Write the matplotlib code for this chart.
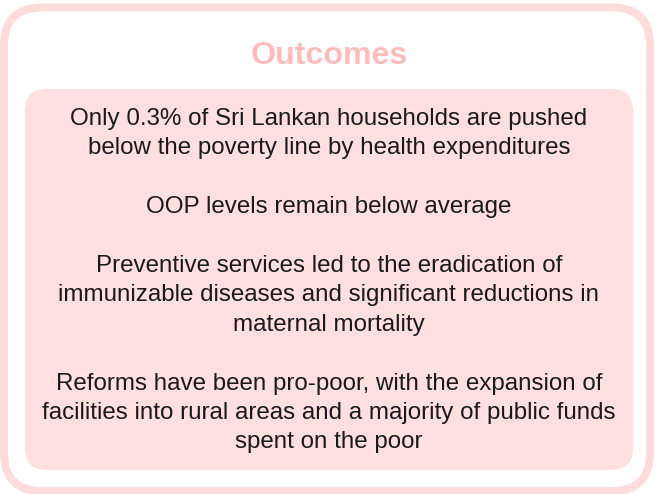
import matplotlib
matplotlib.use("Agg")
import matplotlib.pyplot as plt
from matplotlib.patches import FancyBboxPatch

title = "Outcomes"
paragraphs = [
    ["Only 0.3% of Sri Lankan households are pushed",
     "below the poverty line by health expenditures"],
    ["OOP levels remain below average"],
    ["Preventive services led to the eradication of",
     "immunizable diseases and significant reductions in",
     "maternal mortality"],
    ["Reforms have been pro-poor, with the expansion of",
     "facilities into rural areas and a majority of public funds",
     "spent on the poor"],
]

W, H = 658, 494
fig = plt.figure(figsize=(W / 100, H / 100), dpi=100)
ax = fig.add_axes([0, 0, 1, 1])
ax.set_xlim(0, W)
ax.set_ylim(H, 0)
ax.axis("off")

outer = FancyBboxPatch((4 + 38, 7.5 + 38), 646 - 76, 483.5 - 76,
                       boxstyle="round,pad=38", fc="white", ec="#FFDCDC", lw=5.8)
ax.add_patch(outer)
inner = FancyBboxPatch((25 + 22, 89 + 22), 608 - 44, 381 - 44,
                       boxstyle="round,pad=22", fc="#FFDFDF", ec="none")
ax.add_patch(inner)

ax.text(W / 2, 56, title, ha="center", va="center", fontsize=23.1,
        fontweight="bold", color="#FFBCBC", family="Liberation Sans")

y = 119
step = 29.4
for p in paragraphs:
    for line in p:
        ax.text(329, y, line, ha="center", va="center", fontsize=17.4,
                color="#1a1a1a", family="Liberation Sans")
        y += step
    y += step

fig.savefig("out.png", dpi=100)
